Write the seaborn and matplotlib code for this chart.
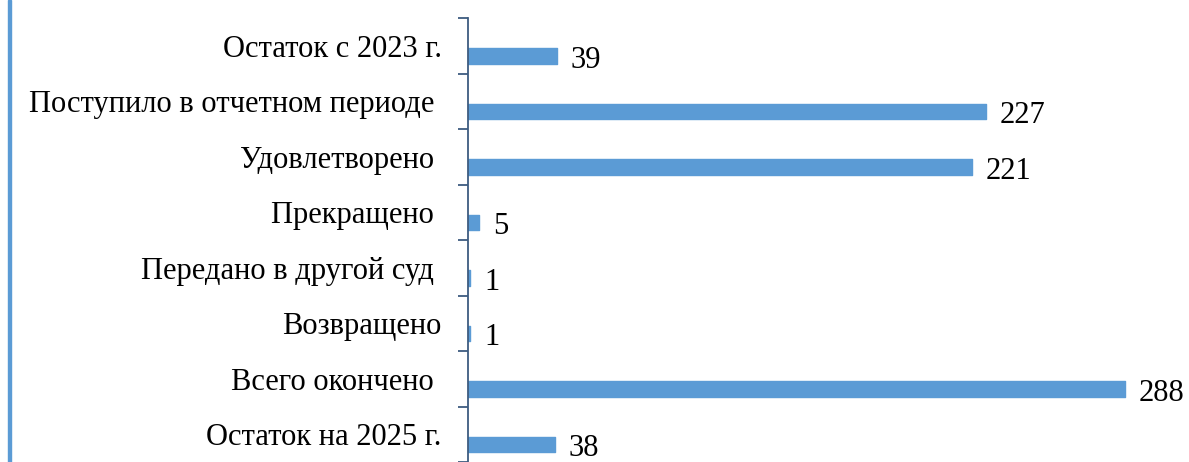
import matplotlib
matplotlib.use('Agg')
import matplotlib.pyplot as plt
from matplotlib.patches import Rectangle
import pandas as pd
import seaborn as sns

# ── Data ───────────────────────────────────────────────────────────────────────
categories = [
    "Остаток с 2023 г.",
    "Поступило в отчетном периоде ",
    "Удовлетворено ",
    "Прекращено ",
    "Передано в другой суд ",
    "Возвращено",
    "Всего окончено ",
    "Остаток на 2025 г.",
]
values = [39, 227, 221, 5, 1, 1, 288, 38]

BAR_COLOR = "#5B9BD5"
AXIS_COLOR = "#3E5C80"

df = pd.DataFrame({"category": categories, "value": values})

# ── Figure ─────────────────────────────────────────────────────────────────────
sns.set_style("white")
plt.rcParams['font.family'] = ['Liberation Serif', 'DejaVu Serif']

W, H = 1189, 462
fig = plt.figure(figsize=(W / 100, H / 100), dpi=100)
ax = fig.add_axes([468 / W, 0, 1 - 468 / W, 1 - 18 / H])

sns.barplot(data=df, y="category", x="value", orient="h", color=BAR_COLOR,
            width=0.28, ax=ax, saturation=1)

# bars sit a little below the category centre, as in the original
offset = 0.185
for p in ax.patches:
    p.set_y(p.get_y() + offset)
    p.set_edgecolor(BAR_COLOR)
    p.set_linewidth(1)
    p.set_joinstyle('round')

for i, v in enumerate(values):
    ax.annotate(str(v), xy=(v, i + offset), xytext=(10, -3), textcoords="offset points",
                va="center", ha="left", fontsize=22, color="black")

ax.set_xlim(0, (W - 468) / (657 / 288))
ax.set_ylim(7.37, -0.5)

ax.set_xlabel("")
ax.set_ylabel("")
ax.set_xticks([])
ax.set_yticks(range(len(categories)))
ax.set_yticklabels(categories, fontsize=22, color="black")
ax.set_yticks([i - 0.5 for i in range(len(categories) + 1)], minor=True)
ax.tick_params(axis="y", which="major", left=False, length=0, pad=19)
ax.tick_params(axis="y", which="minor", left=True, length=7, width=1.3,
               color=AXIS_COLOR, direction="out")

for s in ["top", "right", "bottom"]:
    ax.spines[s].set_visible(False)
ax.spines["left"].set_color(AXIS_COLOR)
ax.spines["left"].set_linewidth(1.3)

# blue frame line on the left edge
fig.patches.append(Rectangle((8 / W, 0), 3 / W, 1, transform=fig.transFigure,
                             color=BAR_COLOR, zorder=5))

fig.savefig("out.png", dpi=100)
